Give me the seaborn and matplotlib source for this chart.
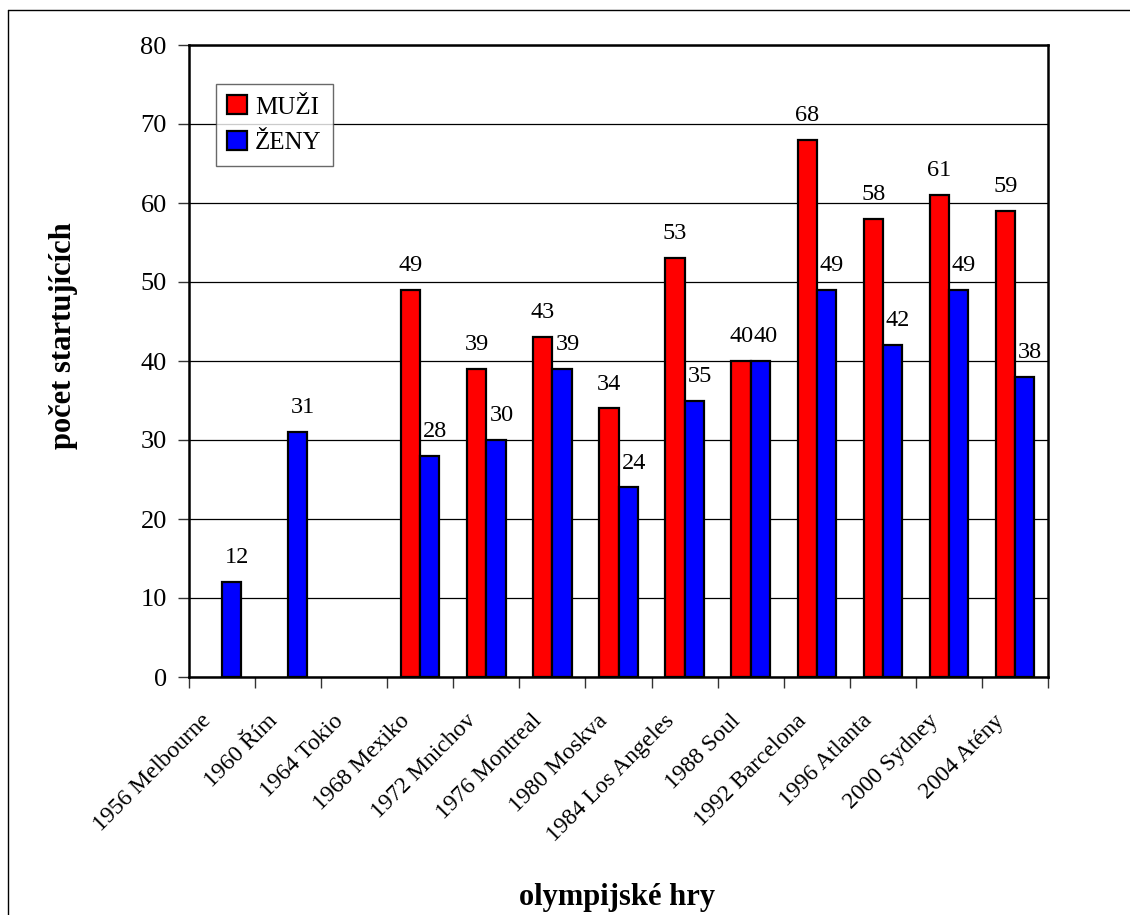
import numpy as np
import pandas as pd
import matplotlib
matplotlib.use("Agg")
import matplotlib.pyplot as plt
import seaborn as sns
from matplotlib.lines import Line2D

games = ["1956 Melbourne", "1960 Řím", "1964 Tokio", "1968 Mexiko", "1972 Mnichov",
         "1976 Montreal", "1980 Moskva", "1984 Los Angeles", "1988 Soul",
         "1992 Barcelona", "1996 Atlanta", "2000 Sydney", "2004 Atény"]
muzi = [np.nan, np.nan, np.nan, 49, 39, 43, 34, 53, 40, 68, 58, 61, 59]
zeny = [12, 31, np.nan, 28, 30, 39, 24, 35, 40, 49, 42, 49, 38]
series = ["MUŽI", "ŽENY"]
colors = ["#FF0000", "#0000FF"]
yticks = [0, 10, 20, 30, 40, 50, 60, 70, 80]

df = pd.DataFrame({
    "hry": games * 2,
    "pohlavi": [series[0]] * len(games) + [series[1]] * len(games),
    "pocet": muzi + zeny,
})

sns.set_theme(style="white")
plt.rcParams["font.family"] = ["Liberation Serif", "DejaVu Serif"]
plt.rcParams["text.color"] = "black"
plt.rcParams["axes.labelcolor"] = "black"
plt.rcParams["xtick.color"] = "black"
plt.rcParams["ytick.color"] = "black"

fig = plt.figure(figsize=(11.3, 9.15), dpi=100)
ax = fig.add_axes([189 / 1130, 1 - 677 / 915, (1048 - 189) / 1130, (677 - 45) / 915])

sns.barplot(data=df, x="hry", y="pocet", hue="pohlavi", order=games,
            hue_order=series, palette=colors, width=0.58, saturation=1,
            edgecolor="black", linewidth=1.6, ax=ax, zorder=3, legend=False)

for i, cont in enumerate(ax.containers):
    labels = ["" if (np.isnan(v) or v == 0) else f"{v:.0f}" for v in cont.datavalues]
    anns = ax.bar_label(cont, labels=labels, padding=10, fontsize=17.5, color="black")
    if i == 1:
        for a in anns:
            a.xyann = (4, a.xyann[1])

ax.set_ylim(0, 80)
ax.set_xlim(-0.5, len(games) - 0.5)
ax.set_yticks(yticks)
ax.yaxis.grid(True, color="black", linewidth=0.9, zorder=0)
ax.set_axisbelow(True)
for s in ax.spines.values():
    s.set_visible(True)
    s.set_color("black")
    s.set_linewidth(1.8)

# category boundaries carry the tick marks; labels sit on (slightly shifted) minor ticks
ax.set_xticks(np.arange(len(games) + 1) - 0.5)
ax.set_xticklabels([""] * (len(games) + 1))
ax.set_xticks(np.arange(len(games)) - 0.32, minor=True)
ax.set_xticklabels(games, minor=True, rotation=45, ha="right", va="top",
                   rotation_mode="anchor", fontsize=17)
ax.tick_params(axis="x", which="major", direction="out", length=8, width=1.0,
               color="#333333", bottom=True)
ax.tick_params(axis="x", which="minor", length=0, pad=24)
ax.tick_params(axis="y", direction="out", length=8, width=1.0, color="#333333",
               left=True, labelsize=19, pad=8)

ax.set_xlabel("olympijské hry", fontsize=22, fontweight="bold", labelpad=0)
ax.xaxis.set_label_coords(617 / 1130, 1 - 897 / 915, transform=fig.transFigure)
ax.xaxis.label.set_va("center")
ax.set_ylabel("počet startujících", fontsize=22, fontweight="bold")
ax.yaxis.set_label_coords(63 / 1130, 1 - 336 / 915, transform=fig.transFigure)
ax.yaxis.label.set_va("center")

handles = [plt.Rectangle((0, 0), 1, 1, facecolor=c, edgecolor="black", linewidth=1.6)
           for c in colors]
leg = ax.legend(handles, series, loc="upper left",
                bbox_to_anchor=(216 / 1130, 1 - 84 / 915),
                bbox_transform=fig.transFigure, frameon=True, fancybox=False,
                fontsize=18, handlelength=0.8, handleheight=0.8,
                handletextpad=0.3, borderpad=0.45, labelspacing=0.5,
                borderaxespad=0)
leg.get_frame().set_edgecolor("#444444")
leg.get_frame().set_linewidth(1.0)

# outer figure border (left and top visible)
fig.add_artist(Line2D([8 / 1130, 8 / 1130], [0, 1 - 10 / 915], transform=fig.transFigure,
                      color="black", linewidth=1.0))
fig.add_artist(Line2D([8 / 1130, 1], [1 - 10 / 915, 1 - 10 / 915], transform=fig.transFigure,
                      color="black", linewidth=1.0))

fig.savefig("out.png", dpi=100, facecolor="white")
